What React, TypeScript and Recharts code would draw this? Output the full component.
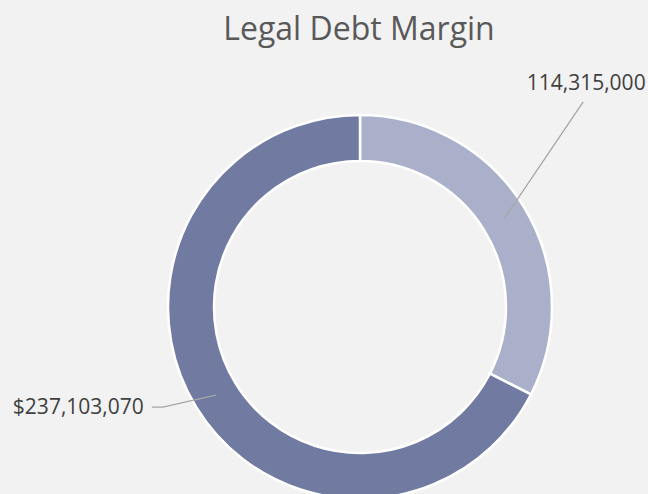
import { PieChart, Pie, Cell } from "recharts";

const names = ["Debt Applicable", "Legal Debt Margin"];
const values = [114315000, 237103070];
const labels = ["114,315,000", "$237,103,070"];
const COLORS = ["#aab0c9", "#717ba2"];

const data = names.map((n, i) => ({ name: n, value: values[i] }));

const RAD = Math.PI / 180;

const renderLabel = (props: any) => {
  const { cx, cy, midAngle, innerRadius, outerRadius, index } = props;
  const r = (innerRadius + outerRadius) / 2;
  const sx = cx + r * Math.cos(-midAngle * RAD);
  const sy = cy + r * Math.sin(-midAngle * RAD);
  if (index === 0) {
    const ex = sx + 79;
    const ey = sy - 117;
    return (
      <g>
        <polyline points={`${sx},${sy} ${ex},${ey}`} stroke="#a6a6a6" strokeWidth={1.3} fill="none" />
        <text x={ex + 3} y={ey - 12} textAnchor="middle" fill="#404040" fontSize={21} fontFamily="'Open Sans', sans-serif">
          {labels[index]}
        </text>
      </g>
    );
  }
  const bx = sx - 53;
  const by = sy + 12;
  const ex = bx - 11;
  return (
    <g>
      <polyline points={`${sx},${sy} ${bx},${by} ${ex},${by}`} stroke="#a6a6a6" strokeWidth={1.3} fill="none" />
      <text x={ex - 8} y={by + 7} textAnchor="end" fill="#404040" fontSize={21} fontFamily="'Open Sans', sans-serif">
        {labels[index]}
      </text>
    </g>
  );
};

export default function App() {
  return (
    <div style={{ position: "fixed", left: 0, top: 0, width: 648, height: 494, background: "#f2f2f2", overflow: "hidden" }}>
      <PieChart width={648} height={494} margin={{ top: 0, right: 0, bottom: 0, left: 0 }}>
        <Pie
          data={data}
          dataKey="value"
          nameKey="name"
          cx={360}
          cy={307}
          innerRadius={146}
          outerRadius={192}
          startAngle={90}
          endAngle={-270}
          stroke="#ffffff"
          strokeWidth={2.5}
          label={renderLabel}
          labelLine={false}
          isAnimationActive={false}
        >
          {data.map((_, i) => (
            <Cell key={i} fill={COLORS[i]} />
          ))}
        </Pie>
      </PieChart>
      <div
        style={{
          position: "absolute",
          left: 0,
          top: 6,
          width: 718,
          textAlign: "center",
          fontFamily: "'Open Sans', sans-serif",
          fontSize: 32,
          color: "#595959",
          lineHeight: "44px",
        }}
      >
        Legal Debt Margin
      </div>
    </div>
  );
}
